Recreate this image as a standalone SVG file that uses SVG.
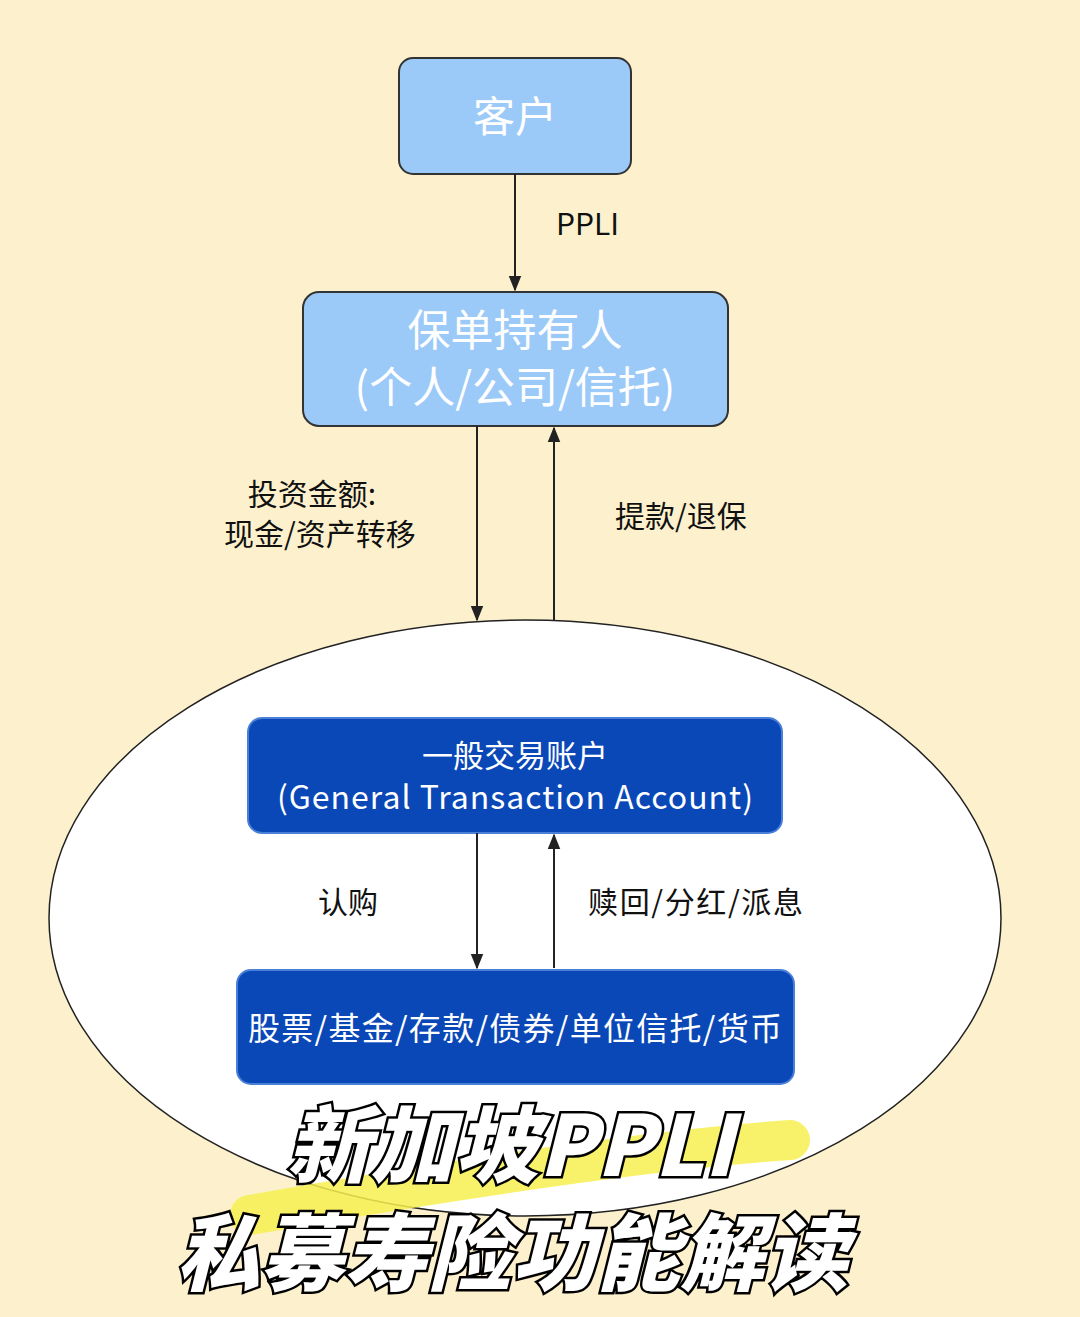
<svg xmlns="http://www.w3.org/2000/svg" width="1080" height="1317" viewBox="0 0 1080 1317">
<defs>
<marker id="ah" viewBox="0 0 10 10" refX="9" refY="5" markerWidth="8" markerHeight="8" orient="auto"><path d="M0,1 L10,5 L0,9 z" fill="#222"/></marker>
<style>
.lb{fill:#9ccaf8;stroke:#333;stroke-width:2}
.db{fill:#0a48b8;stroke:#4a7fd8;stroke-width:2}
.t{font-family:"Noto Sans CJK SC","Liberation Sans",sans-serif}
.c{stroke:#222;stroke-width:2;fill:none;marker-end:url(#ah)}
.ttl{font-family:"Noto Sans CJK SC",sans-serif;font-weight:900;fill:#fff;stroke:#000;stroke-width:5;paint-order:stroke;font-style:italic}
</style>
</defs>
<rect width="1080" height="1317" fill="#fdf1cd"/>
<ellipse cx="525" cy="918" rx="476" ry="298" fill="#fff" stroke="#222" stroke-width="1.5"/>
<g id="client"><rect class="lb" x="399" y="58" width="232" height="116" rx="14"/><text class="t" x="515" y="132" font-size="42" fill="#fff" text-anchor="middle">客户</text></g>
<g id="holder"><rect class="lb" x="303" y="292" width="425" height="134" rx="16"/><text class="t" x="515" y="346" font-size="43" fill="#fff" text-anchor="middle">保单持有人</text><text class="t" x="515" y="403" font-size="43" fill="#fff" text-anchor="middle">(个人/公司/信托)</text></g>
<g id="gta"><rect class="db" x="248" y="718" width="534" height="115" rx="14"/><text class="t" x="515" y="767" font-size="31" fill="#fff" text-anchor="middle">一般交易账户</text><text class="t" x="515" y="809" font-size="32" fill="#fff" text-anchor="middle" textLength="476">(General Transaction Account)</text></g>
<g id="assets"><rect class="db" x="237" y="970" width="557" height="114" rx="14"/><text class="t" x="515" y="1040" font-size="32" fill="#fff" text-anchor="middle" textLength="534">股票/基金/存款/债券/单位信托/货币</text></g>
<g id="connectors">
<line class="c" x1="515" y1="174" x2="515" y2="290"/>
<line class="c" x1="477" y1="426" x2="477" y2="620"/>
<line class="c" x1="554" y1="620" x2="554" y2="428"/>
<line class="c" x1="477" y1="833" x2="477" y2="968"/>
<line class="c" x1="554" y1="968" x2="554" y2="835"/>
<text class="t" x="556" y="235" font-size="30" fill="#111">PPLI</text>
<text class="t" x="312" y="505" font-size="30" fill="#111" text-anchor="middle">投资金额:</text>
<text class="t" x="320" y="545" font-size="30" fill="#111" text-anchor="middle">现金/资产转移</text>
<text class="t" x="615" y="527" font-size="30" fill="#111">提款/退保</text>
<text class="t" x="318" y="913" font-size="30" fill="#111">认购</text>
<text class="t" x="588" y="913" font-size="30" fill="#111" textLength="215">赎回/分红/派息</text>
</g>
<path d="M250,1215 C450,1180 650,1150 790,1140" stroke="#f7f050" stroke-width="40" fill="none" opacity="0.85" stroke-linecap="round"/>
<g id="title">
<text class="ttl" x="510" y="1176" font-size="84" text-anchor="middle">新加坡PPLI</text>
<text class="ttl" x="512" y="1284" font-size="84" text-anchor="middle">私募寿险功能解读</text>
</g>
</svg>
